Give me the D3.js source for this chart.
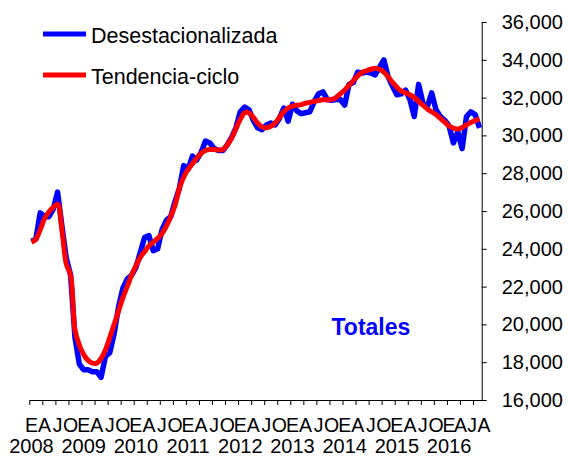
<!DOCTYPE html>
<html>
<head>
<meta charset="utf-8">
<script src="https://cdn.jsdelivr.net/npm/d3@7"></script>
<style>
  body { margin: 0; background: #fff; }
  svg { font-family: "Liberation Sans", Arial, sans-serif; }
</style>
</head>
<body>
<svg id="chart" width="568" height="458"></svg>
<script>
// monthly series, Jan 2008 .. Aug 2016
const startYear = 2008;
const monthLetters = ['E', '', '', 'A', '', '', 'J', '', '', 'O', '', ''];
const yTicks = [16000, 18000, 20000, 22000, 24000, 26000, 28000, 30000, 32000, 34000, 36000];

const desestacionalizada = [
  24400, 24500, 25900, 25700, 25700, 26100, 27000, 25200, 23500, 22600, 19300, 17900,
  17600, 17600, 17500, 17500, 17200, 18300, 18500, 19500, 20900, 21900, 22400, 22600,
  23000, 23800, 24600, 24700, 23900, 24000, 25000, 25500, 25700, 26500, 27200, 28400,
  28200, 28900, 28700, 29100, 29700, 29600, 29300, 29200, 29200, 29500, 29900, 30400,
  31250, 31500, 31350, 30800, 30400, 30300, 30550, 30650, 30550, 30900, 31450, 30750,
  31650, 31300, 31150, 31200, 31250, 31800, 32200, 32300, 31900, 31850, 31900, 31900,
  31600, 32700, 32800, 33350, 33300, 33350, 33300, 33200, 33600, 34000, 33100, 32600,
  32150, 32200, 32400, 31900, 31000, 32700, 31700, 31500, 32250, 31350, 31000, 30800,
  30500, 29600, 30200, 29300, 31000, 31250, 31100, 30400
];

const tendenciaCiclo = [
  24350, 24500, 25000, 25600, 25950, 26200, 26350, 25000, 23200, 22600, 19700, 18900,
  18400, 18100, 17950, 17950, 18200, 18650, 19300, 20000, 20700, 21400, 22000, 22600,
  23100, 23550, 23850, 24150, 24350, 24550, 24800, 25200, 25700, 26300, 27200, 27800,
  28200, 28500, 28800, 29050, 29200, 29250, 29250, 29230, 29250, 29500, 29850, 30350,
  30850, 31200, 31200, 30950, 30650, 30450, 30400, 30480, 30650, 30950, 31250, 31450,
  31550, 31600, 31630, 31700, 31750, 31800, 31850, 31880, 31880, 31900, 32000, 32200,
  32400, 32650, 32900, 33150, 33330, 33420, 33500, 33550, 33500, 33350, 33100, 32800,
  32550, 32350, 32250, 32150, 32000, 31800, 31600, 31400, 31250, 31100, 30900, 30700,
  30500, 30380, 30340, 30420, 30550, 30680, 30780, 30870
];

const n = desestacionalizada.length;
const svg = d3.select('#chart');

const x = d3.scaleLinear().domain([-0.5, n - 0.5]).range([29.3, 481.7]);
const y = d3.scaleLinear().domain([16000, 36000]).range([400, 22]);

// right value axis
const yAxis = svg.append('g')
  .attr('transform', `translate(${x.range()[1]},0)`)
  .call(d3.axisRight(y).tickValues(yTicks).tickSize(5).tickPadding(15)
    .tickFormat(d3.format(',')).tickSizeOuter(0));
yAxis.select('.domain').attr('stroke', '#000');
yAxis.selectAll('.tick line').attr('stroke', '#000');
yAxis.selectAll('.tick text').attr('font-size', 20).attr('fill', '#000')
  .attr('font-family', '"Liberation Sans", Arial, sans-serif');

// bottom category axis, tick every 3 months
const qTicks = d3.range(-0.5, n, 3);
const xAxis = svg.append('g')
  .attr('transform', `translate(0,${y.range()[0]})`)
  .call(d3.axisBottom(x).tickValues(qTicks).tickSize(5).tickFormat('').tickSizeOuter(0));
xAxis.select('.domain').attr('stroke', '#000');
xAxis.selectAll('.tick line').attr('stroke', '#000');

// last few labels are crowded, nudge them apart a little
const nudge = { 99: -1.5, 102: -3, 103: 4.5 };
const labelIdx = d3.range(n).filter(i => monthLetters[i % 12] !== '');
labelIdx.push(n - 1);
const labels = svg.append('g').attr('font-size', 19.5).attr('fill', '#000').attr('text-anchor', 'middle');
labels.selectAll('text.m')
  .data(labelIdx)
  .join('text')
  .attr('class', 'm')
  .attr('x', i => x(i))
  .attr('dx', i => nudge[i] || 0)
  .attr('y', 432)
  .text(i => (i === n - 1 ? 'A' : monthLetters[i % 12]));
labels.selectAll('text.yr')
  .data(d3.range(0, n, 12))
  .join('text')
  .attr('class', 'yr')
  .attr('x', i => x(i))
  .attr('y', 453)
  .attr('font-size', 20)
  .text(i => startYear + i / 12);

// series
const line = d3.line().x((d, i) => x(i)).y(d => y(d));
svg.append('path')
  .datum(desestacionalizada)
  .attr('fill', 'none')
  .attr('stroke', '#0000ff')
  .attr('stroke-width', 5.5)
  .attr('stroke-linejoin', 'round')
  .attr('d', line.curve(d3.curveLinear));
svg.append('path')
  .datum(tendenciaCiclo)
  .attr('fill', 'none')
  .attr('stroke', '#ff0000')
  .attr('stroke-width', 5)
  .attr('stroke-linejoin', 'round')
  .attr('d', line.curve(d3.curveCatmullRom));

// legend
const legend = [
  { name: 'Desestacionalizada', color: '#0000ff', y: 34 },
  { name: 'Tendencia-ciclo', color: '#ff0000', y: 75 }
];
const lg = svg.append('g').attr('font-size', 21.5).attr('fill', '#000');
lg.selectAll('line')
  .data(legend)
  .join('line')
  .attr('x1', 43).attr('x2', 86)
  .attr('y1', d => d.y).attr('y2', d => d.y)
  .attr('stroke', d => d.color)
  .attr('stroke-width', 5);
lg.selectAll('text')
  .data(legend)
  .join('text')
  .attr('x', 91)
  .attr('y', d => d.y + 8.5)
  .text(d => d.name);

svg.append('text')
  .attr('x', 331.5)
  .attr('y', 335)
  .attr('font-size', 23)
  .attr('font-weight', 'bold')
  .attr('fill', '#0000ff')
  .text('Totales');
</script>
</body>
</html>
